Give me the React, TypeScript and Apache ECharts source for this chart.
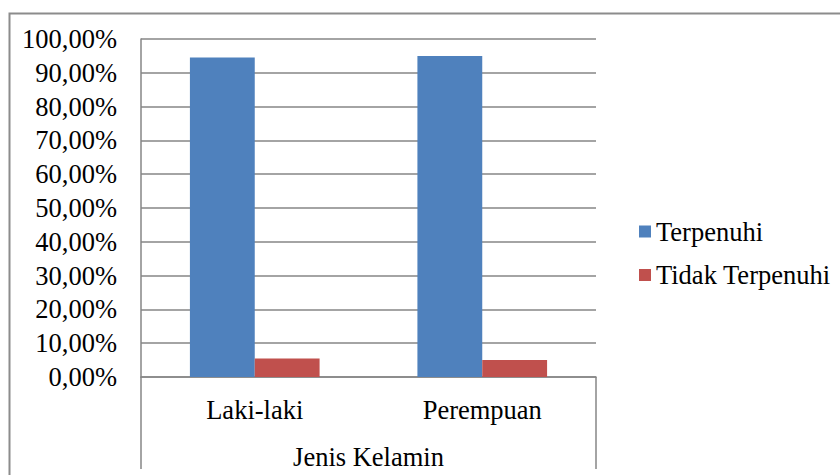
import React, { useEffect, useRef } from "react";
import * as echarts from "echarts";

const categories = ["Laki-laki", "Perempuan"];
const terpenuhi = [94.5, 95.0];
const tidakTerpenuhi = [5.5, 5.0];
const seriesNames = ["Terpenuhi", "Tidak Terpenuhi"];
const axisName = "Jenis Kelamin";

const FONT = "Times New Roman, Liberation Serif, DejaVu Serif, serif";
const FS = 26.5;
const GRAY = "#868686";

export default function App() {
  const ref = useRef<HTMLDivElement>(null);
  useEffect(() => {
    if (!ref.current) return;
    const chart = echarts.init(ref.current, undefined, { renderer: "svg" });
    chart.setOption({
      animation: false,
      backgroundColor: "#ffffff",
      textStyle: { fontFamily: FONT },
      grid: { left: 141, top: 39, width: 455, height: 338, containLabel: false },
      legend: {
        orient: "vertical",
        left: 634,
        top: 213,
        itemWidth: 12,
        itemHeight: 12,
        itemGap: 16.5,
        icon: "rect",
        textStyle: { fontFamily: FONT, fontSize: FS, color: "#000" },
        data: seriesNames,
      },
      xAxis: {
        type: "category",
        data: categories,
        name: axisName,
        nameLocation: "middle",
        nameGap: 66,
        nameTextStyle: { fontFamily: FONT, fontSize: FS, color: "#000" },
        axisLine: { show: true, lineStyle: { color: GRAY, width: 1.5 } },
        axisTick: { show: false },
        axisLabel: { fontFamily: FONT, fontSize: FS, color: "#000", margin: 19 },
      },
      yAxis: {
        type: "value",
        min: 0,
        max: 100,
        interval: 10,
        axisLine: { show: true, lineStyle: { color: GRAY, width: 1.5 } },
        axisTick: { show: false },
        splitLine: { show: true, lineStyle: { color: GRAY, width: 1.5 } },
        axisLabel: {
          fontFamily: FONT,
          fontSize: FS,
          color: "#000",
          margin: 24,
          formatter: (v: number) => v.toFixed(2).replace(".", ",") + "%",
        },
      },
      graphic: [
        {
          type: "rect",
          shape: { x: 9.5, y: 13.5, width: 900, height: 500 },
          style: { fill: "none", stroke: "#8c8c8c", lineWidth: 2 },
          silent: true,
        },
        {
          type: "line",
          shape: { x1: 141, y1: 377, x2: 141, y2: 469 },
          style: { stroke: GRAY, lineWidth: 1.5 },
          silent: true,
        },
        {
          type: "line",
          shape: { x1: 596, y1: 377, x2: 596, y2: 469 },
          style: { stroke: GRAY, lineWidth: 1.5 },
          silent: true,
        },
      ],
      series: [
        {
          name: seriesNames[0],
          type: "bar",
          data: terpenuhi,
          barGap: "0%",
          barCategoryGap: "43%",
          itemStyle: { color: "#4F81BD" },
        },
        {
          name: seriesNames[1],
          type: "bar",
          data: tidakTerpenuhi,
          itemStyle: { color: "#C0504D" },
        },
      ],
    });
    return () => chart.dispose();
  }, []);
  return (
    <div
      ref={ref}
      style={{ position: "fixed", left: 0, top: 0, width: 840, height: 475 }}
    />
  );
}
